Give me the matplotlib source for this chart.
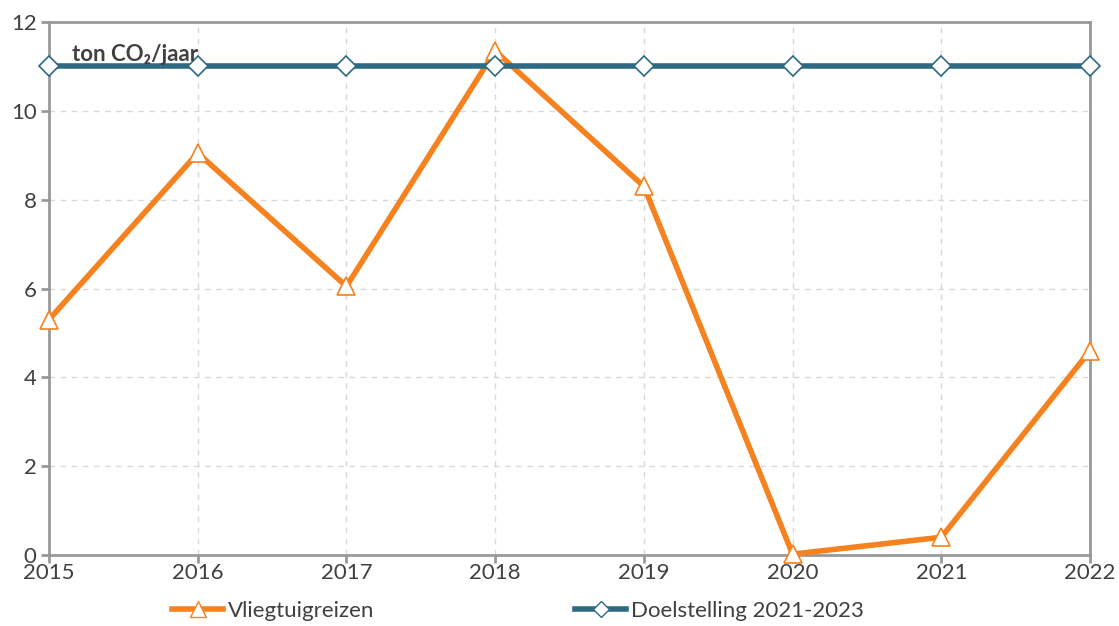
import matplotlib
matplotlib.use("Agg")
import matplotlib.pyplot as plt
from matplotlib.lines import Line2D

plt.rcParams['font.family'] = ['Lato', 'DejaVu Sans']

years = [2015, 2016, 2017, 2018, 2019, 2020, 2021, 2022]
vliegtuigreizen = [5.3, 9.05, 6.05, 11.35, 8.3, 0.02, 0.4, 4.6]
doelstelling = [11, 11, 11, 11, 11, 11, 11, 11]
y_ticks = [0, 2, 4, 6, 8, 10, 12]

orange = '#f5821f'
teal = '#2e6a83'
grey = '#999999'
text_col = '#404040'

fig = plt.figure(figsize=(11.19, 6.26), dpi=100)
ax = fig.add_axes([0.0438, 0.1134, 0.9303, 0.8514])

ax.plot(years, vliegtuigreizen, color=orange, linewidth=4, marker='^', markersize=13,
        markerfacecolor='white', markeredgecolor=orange, markeredgewidth=1.2,
        clip_on=False, zorder=3)
ax.plot(years, doelstelling, color=teal, linewidth=4, marker='D', markersize=10,
        markerfacecolor='white', markeredgecolor=teal, markeredgewidth=1.2,
        clip_on=False, zorder=4)

ax.set_xlim(2015, 2022)
ax.set_ylim(0, 12)
ax.set_xticks(years)
ax.set_yticks(y_ticks)
ax.grid(True, linestyle=(0, (4, 4)), color='#d9d9d9', linewidth=1)
ax.set_axisbelow(True)
for s in ax.spines.values():
    s.set_color(grey)
    s.set_linewidth(2)
ax.tick_params(axis='both', colors=grey, width=2, length=6, labelcolor=text_col, labelsize=16)
ax.tick_params(axis='y', pad=3)
ax.tick_params(axis='x', pad=0)

# unit label sits just above the target line
ax.text(2015.155, 11.13, 'ton CO\u2082/jaar', fontsize=16, fontweight='bold',
        color=text_col, va='baseline', ha='left', zorder=5)

handles = [
    Line2D([], [], color=orange, linewidth=4, marker='^', markersize=11,
           markerfacecolor='white', markeredgecolor=orange),
    Line2D([], [], color=teal, linewidth=4, marker='D', markersize=8,
           markerfacecolor='white', markeredgecolor=teal),
]
fig.legend(handles, ['Vliegtuigreizen', 'Doelstelling 2021-2023'], loc='center left',
           bbox_to_anchor=(0.1537, 0.024), ncol=2, frameon=False, fontsize=16,
           borderpad=0, borderaxespad=0,
           columnspacing=9.05, handlelength=2.3, handletextpad=0.2, labelcolor=text_col)

fig.savefig('out.png', dpi=100)
